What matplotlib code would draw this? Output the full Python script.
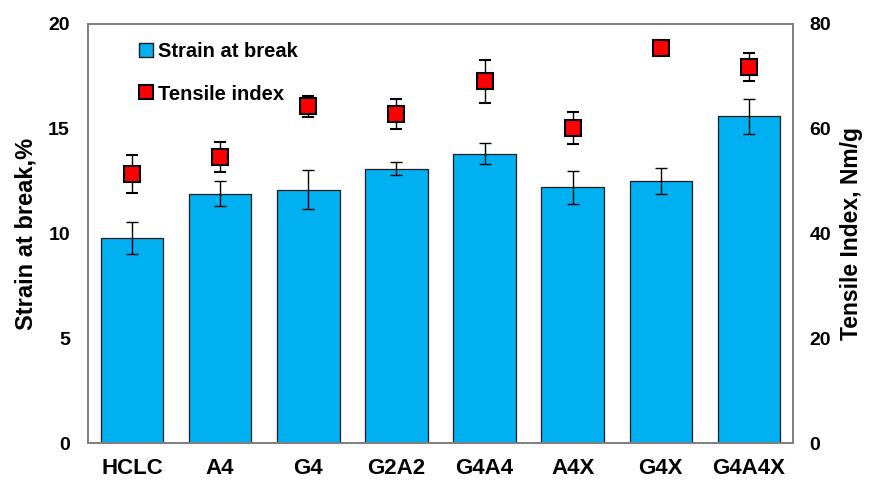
import matplotlib
matplotlib.use("Agg")
import matplotlib.pyplot as plt
from matplotlib.lines import Line2D
import numpy as np

categories = ["HCLC", "A4", "G4", "G2A2", "G4A4", "A4X", "G4X", "G4A4X"]
strain = [9.8, 11.9, 12.1, 13.1, 13.8, 12.2, 12.5, 15.6]
strain_err = [0.77, 0.6, 0.93, 0.3, 0.5, 0.77, 0.63, 0.83]
tensile = [51.4, 54.6, 64.3, 62.8, 69.1, 60.1, 75.4, 71.8]
tensile_err = [3.6, 2.8, 2.0, 2.8, 4.1, 3.1, 0.8, 2.7]

plt.rcParams['font.family'] = ['Liberation Sans', 'DejaVu Sans']
plt.rcParams['font.weight'] = 'bold'

fig = plt.figure(figsize=(8.7, 4.83), dpi=100)
ax = fig.add_axes([88/870, 1-443/483, (793-88)/870, (443-24)/483])
ax2 = ax.twinx()

x = np.arange(len(categories))
ax.bar(x, strain, width=0.71, color="#00B0F0", edgecolor="#1a1a1a", linewidth=0.9, zorder=2)
ax.errorbar(x, strain, yerr=strain_err, fmt='none', ecolor='black', elinewidth=1.0,
            capsize=4.5, capthick=1.0, zorder=3)
ax2.errorbar(x, tensile, yerr=tensile_err, fmt='s', color='#FF0000', mec='black', mew=1.5,
             ms=11.5, ecolor='black', elinewidth=1.0, capsize=4.5, capthick=1.0, zorder=4)

ax.set_xlim(-0.5, len(categories) - 0.5)
ax.set_ylim(0, 20)
ax2.set_ylim(0, 80)
ax.set_yticks([0, 5, 10, 15, 20])
ax2.set_yticks([0, 20, 40, 60, 80])
ax.set_xticks(x)
ax.set_xticklabels(categories, fontsize=16, fontweight='bold')
for a in (ax, ax2):
    a.tick_params(axis='both', length=0, labelsize=14)
    for s in a.spines.values():
        s.set_color('#808080')
        s.set_linewidth(1.3)
ax.tick_params(axis='x', pad=11, labelsize=16)
ax.tick_params(axis='y', pad=13)
ax2.tick_params(axis='y', pad=12)
for lbl in ax.get_yticklabels() + ax2.get_yticklabels():
    lbl.set_fontweight('bold')

ax.set_ylabel("Strain at break,%", fontsize=17, fontweight='bold', labelpad=8)
ax2.set_ylabel("Tensile Index, Nm/g", fontsize=16.5, fontweight='bold', labelpad=6)

handles = [
    Line2D([], [], marker='s', ls='none', mfc='#00B0F0', mec='#1a1a1a', mew=1.0, ms=10.5),
    Line2D([], [], marker='s', ls='none', mfc='#FF0000', mec='black', mew=1.5, ms=10.5),
]
ax.legend(handles, ["Strain at break", "Tensile index"], loc='upper left',
          bbox_to_anchor=(0.055, 0.985), frameon=False,
          prop={'weight': 'bold', 'size': 14.5}, handlelength=0.7, handletextpad=0.25,
          labelspacing=1.15, borderaxespad=0.2)

fig.savefig("out.png", dpi=100)
